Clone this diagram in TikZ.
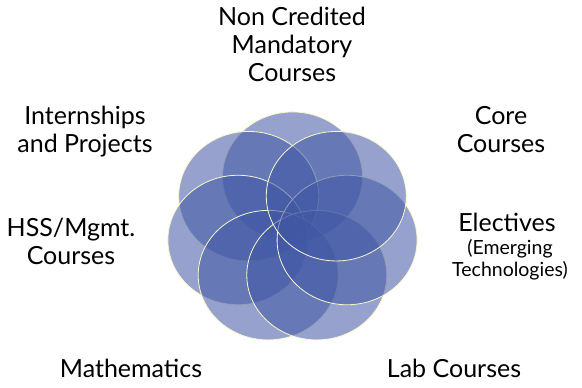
\documentclass[tikz,border=0pt]{standalone}
\usepackage{fontspec}
\setmainfont{Lato}
\usepackage{tikz}
\usepackage{xcolor}
\usetikzlibrary{positioning}
\definecolor{petalblue}{RGB}{64,86,164}
\definecolor{rim}{RGB}{248,248,205}

\begin{document}
\begin{tikzpicture}[x=1pt, y=1pt,
    petal/.style={fill=petalblue, fill opacity=0.55, draw=rim, line width=0.8pt},
    lbl/.style={align=center, inner sep=0pt, anchor=base, font=\fontsize{25}{28}\selectfont},
    sublbl/.style={align=center, inner sep=0pt, anchor=base, font=\fontsize{19.5}{22}\selectfont}]
                        \useasboundingbox (0,0) rectangle (582,388);
                        \coordinate (o) at (292.5, 159.5);
                        % the seven petals
                        \foreach \k in {0,...,6}
                            \draw[petal, shift={(o)}] ({90+\k*360/7}:56 and 51.8) ellipse [x radius=70, y radius=64.75];
                        % labels, anchored at the baseline of their last line
                        \node[lbl] (nc) at (292, 306) {Non Credited\\Mandatory\\Courses};
                        \node[lbl] (intern) at (85, 235) {Internships\\and Projects};
                        \node[lbl] (core) at (501, 235) {Core\\Courses};
                        \node[lbl] (elec) at (507, 156) {Electives};
                        \node[sublbl] (emerg) at (510, 111) {(Emerging\\Technologies)};
                        \node[lbl] (hss) at (71, 123) {HSS/Mgmt.\\Courses};
                        \node[lbl] (math) at (131, 10) {Mathematics};
                        \node[lbl] (lab) at (454, 10) {Lab Courses};
                    \end{tikzpicture}
\end{document}
